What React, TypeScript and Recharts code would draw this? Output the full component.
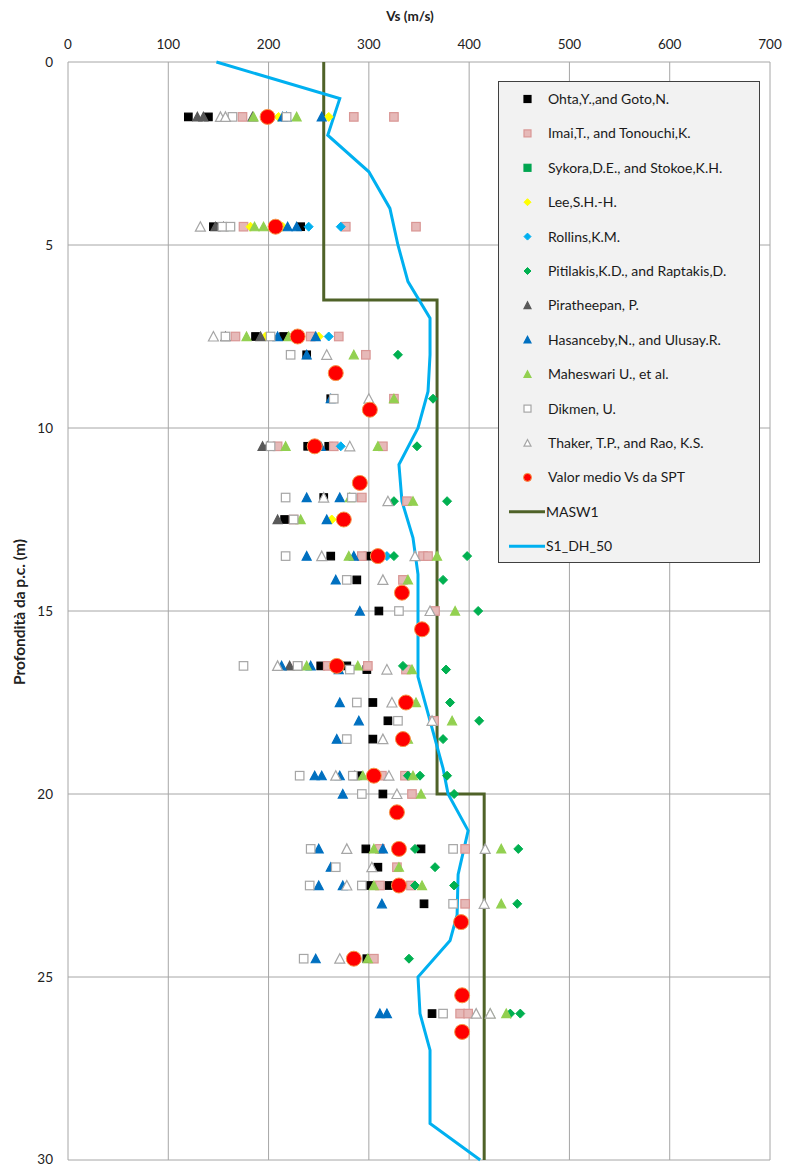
import React from 'react';
import { ScatterChart, Scatter, XAxis, YAxis, CartesianGrid, Legend } from 'recharts';

type Row = [number, number[]];
type P = { v: number; d: number };

const xTicks = [0, 100, 200, 300, 400, 500, 600, 700];
const yTicks = [0, 5, 10, 15, 20, 25, 30];

// rows: [depth (m), Vs values (m/s)]
const ohta: Row[] = [
  [1.5, [120, 140]], [4.5, [145, 232]], [7.5, [187, 215]], [8.0, [238]], [9.2, [262]],
  [10.5, [239, 260]], [11.9, [255, 283]], [12.5, [216]], [13.5, [262, 299]], [14.15, [288]],
  [15.0, [310]], [16.5, [252, 278]], [16.6, [298]], [17.5, [304]], [18.0, [319]], [18.5, [304]],
  [19.5, [289]], [20.0, [314]], [21.5, [297, 352]], [22.0, [309]], [22.5, [300, 320]],
  [23.0, [355]], [24.5, [298]], [26.0, [363]],
];
const imai: Row[] = [
  [1.5, [174, 285, 325]], [4.5, [175, 277, 347]], [7.5, [167, 242, 270]], [8.0, [297]], [9.2, [325]],
  [10.5, [209, 265, 314]], [11.9, [293]], [12.0, [338]], [12.5, [225]], [13.5, [293, 354, 359]],
  [14.15, [334]], [15.0, [366]], [16.5, [229, 259, 299]], [16.6, [337]], [18.0, [365]],
  [19.5, [313, 336]], [20.0, [343]], [21.5, [311, 396]], [22.0, [328]], [22.5, [311, 342]],
  [23.0, [396]], [24.5, [305]], [26.0, [391, 399]],
];
const sykora: Row[] = [[4.5, [162]], [16.5, [229]]];
const lee: Row[] = [[1.5, [210, 260]], [4.5, [182, 214]], [7.5, [197, 250]], [12.5, [263]]];
const rollins: Row[] = [[4.5, [240, 272]], [7.5, [260]], [10.5, [272]], [13.5, [318]]];
const pitilakis: Row[] = [
  [8.0, [329]], [9.2, [364]], [10.5, [348]], [12.0, [325, 378]], [13.5, [325, 398]], [14.15, [374]],
  [15.0, [409]], [16.5, [334]], [16.6, [377]], [17.5, [381]], [18.0, [410]], [18.5, [374]],
  [19.5, [339, 351, 378]], [20.0, [385]], [21.5, [346, 449]], [22.0, [366]], [22.5, [346, 385]],
  [23.0, [448]], [24.5, [340]], [26.0, [441, 451]],
];
const piratheepan: Row[] = [
  [1.5, [129, 135, 184]], [4.5, [147, 155]], [7.5, [157, 192]], [10.5, [194, 199]], [12.5, [209]],
  [16.5, [221]], [19.5, [286]],
];
const hasanceby: Row[] = [
  [1.5, [214, 218, 253]], [4.5, [219, 228]], [7.5, [209, 247]], [8.0, [238]], [9.2, [262]],
  [10.5, [252]], [11.9, [238, 271]], [12.5, [258]], [13.5, [238, 285]], [14.15, [267]], [15.0, [291]],
  [16.5, [213, 242]], [16.6, [270]], [17.5, [271]], [18.0, [290]], [18.5, [268]],
  [19.5, [246, 253, 271]], [20.0, [274]], [21.5, [250, 314]], [22.0, [262]], [22.5, [250, 274]],
  [23.0, [313]], [24.5, [247]], [26.0, [311, 318]],
];
const maheswari: Row[] = [
  [1.5, [185, 228]], [4.5, [186, 195]], [7.5, [178, 220]], [8.0, [285]], [9.2, [325]],
  [10.5, [217, 309]], [11.9, [281]], [12.0, [344]], [12.5, [232]], [13.5, [280, 368]], [14.15, [339]],
  [15.0, [386]], [16.5, [238, 289]], [16.6, [343]], [17.5, [347]], [18.0, [383]], [18.5, [339]],
  [19.5, [294, 344]], [20.0, [352]], [21.5, [305, 432]], [22.0, [330]], [22.5, [305, 353]],
  [23.0, [432]], [24.5, [299]], [26.0, [421, 437]],
];
const dikmen: Row[] = [
  [1.5, [164, 218]], [4.5, [154, 162]], [7.5, [157, 202]], [8.0, [222]], [9.2, [265]], [10.5, [202]],
  [11.9, [217, 283]], [12.5, [225]], [13.5, [217]], [14.15, [278]], [15.0, [330]],
  [16.5, [175, 229]], [16.6, [281]], [17.5, [288]], [18.0, [329]], [18.5, [278]],
  [19.5, [231, 284]], [20.0, [293]], [21.5, [242, 384]], [22.0, [267]], [22.5, [241, 293]],
  [23.0, [384]], [24.5, [235]], [26.0, [374]],
];
const thaker: Row[] = [
  [1.5, [152, 157]], [4.5, [132]], [7.5, [145]], [8.0, [258]], [9.2, [300]], [10.5, [281]],
  [11.9, [255]], [12.0, [319]], [13.5, [253, 346]], [14.15, [314]], [15.0, [361]],
  [16.5, [209]], [16.6, [318]], [17.5, [323]], [18.0, [363]], [18.5, [314]],
  [19.5, [267, 320]], [20.0, [328]], [21.5, [278, 416]], [22.0, [303]], [22.5, [278]],
  [23.0, [415]], [24.5, [271]], [26.0, [407, 421]],
];
const valorMedio: Row[] = [
  [1.5, [199]], [4.5, [207]], [7.5, [229]], [8.5, [267]], [9.5, [301]], [10.5, [246]],
  [11.5, [291]], [12.5, [275]], [13.5, [309]], [14.5, [333]], [15.5, [353]], [16.5, [268]],
  [17.5, [337]], [18.5, [334]], [19.5, [305]], [20.5, [328]], [21.5, [330]], [22.5, [330]],
  [23.5, [392]], [24.5, [285]], [25.5, [393]], [26.5, [393]],
];

const maswV = [255, 255, 368, 368, 415, 415];
const maswD = [0, 6.5, 6.5, 20, 20, 30];
const dhV = [148, 271, 259, 300, 321, 329, 339, 361, 361, 359, 349, 330, 333, 344, 349, 349, 349, 374, 379, 399, 389, 388, 381, 349, 351, 361, 361, 411];
const dhD = [0, 1, 2, 3, 4, 5, 6, 7, 8, 9, 10, 11, 12, 13, 14, 16, 16.8, 19.3, 20, 21, 22.2, 23.3, 24, 25, 26, 27, 29, 30];

const toPts = (rows: Row[]): P[] => rows.flatMap(([d, vs]) => vs.map((v) => ({ v, d })));
const toLine = (vs: number[], ds: number[]): P[] => vs.map((v, i) => ({ v, d: ds[i] }));

type ShapeKind = 'square' | 'diamond' | 'triangle' | 'circle';
const drawMarker = (kind: ShapeKind, cx: number, cy: number, fill: string, stroke: string, s: number) => {
  if (kind === 'square') {
    return <rect x={cx - s / 2} y={cy - s / 2} width={s} height={s} fill={fill} stroke={stroke} strokeWidth={1.2} />;
  }
  if (kind === 'diamond') {
    const h = s / 2;
    return <polygon points={`${cx},${cy - h} ${cx + h},${cy} ${cx},${cy + h} ${cx - h},${cy}`} fill={fill} stroke={stroke} strokeWidth={1} />;
  }
  if (kind === 'triangle') {
    const h = s / 2;
    return <polygon points={`${cx},${cy - h} ${cx + h},${cy + h * 0.9} ${cx - h},${cy + h * 0.9}`} fill={fill} stroke={stroke} strokeWidth={1.2} />;
  }
  return <circle cx={cx} cy={cy} r={s / 2} fill={fill} stroke={stroke} strokeWidth={1} />;
};

type SeriesDef = { name: string; rows: Row[]; kind: ShapeKind; fill: string; stroke: string; size: number };
const series: SeriesDef[] = [
  { name: 'Ohta,Y.,and Goto,N.', rows: ohta, kind: 'square', fill: '#000000', stroke: '#000000', size: 7.5 },
  { name: 'Imai,T., and Tonouchi,K.', rows: imai, kind: 'square', fill: '#E6B9B8', stroke: '#D99694', size: 8.5 },
  { name: 'Sykora,D.E., and Stokoe,K.H.', rows: sykora, kind: 'square', fill: '#00A550', stroke: '#00A550', size: 7.5 },
  { name: 'Lee,S.H.-H.', rows: lee, kind: 'diamond', fill: '#FFFF00', stroke: '#FFFF00', size: 9 },
  { name: 'Rollins,K.M.', rows: rollins, kind: 'diamond', fill: '#00B0F0', stroke: '#00B0F0', size: 9 },
  { name: 'Pitilakis,K.D., and Raptakis,D.', rows: pitilakis, kind: 'diamond', fill: '#00B050', stroke: '#00B050', size: 9 },
  { name: 'Piratheepan, P.', rows: piratheepan, kind: 'triangle', fill: '#595959', stroke: '#595959', size: 9 },
  { name: 'Hasanceby,N., and Ulusay.R.', rows: hasanceby, kind: 'triangle', fill: '#0070C0', stroke: '#0070C0', size: 9 },
  { name: 'Maheswari U., et al.', rows: maheswari, kind: 'triangle', fill: '#92D050', stroke: '#92D050', size: 9 },
  { name: 'Dikmen, U.', rows: dikmen, kind: 'square', fill: '#FFFFFF', stroke: '#A6A6A6', size: 8.5 },
  { name: 'Thaker, T.P., and Rao, K.S.', rows: thaker, kind: 'triangle', fill: '#FFFFFF', stroke: '#A6A6A6', size: 10 },
  { name: 'Valor medio Vs da SPT', rows: valorMedio, kind: 'circle', fill: '#FF0000', stroke: '#F79646', size: 15 },
];
const lines = [
  { name: 'MASW1', data: toLine(maswV, maswD), color: '#4F6228' },
  { name: 'S1_DH_50', data: toLine(dhV, dhD), color: '#00B0F0' },
];

const FONT = 'Lato, "Liberation Sans", sans-serif';

const LegendBox = () => {
  const W = 262;
  const H = 482;
  const step = 34.4;
  const y0 = 18;
  return (
    <svg width={W} height={H} style={{ display: 'block' }}>
      <rect x={0.5} y={0.5} width={W - 1} height={H - 1} fill="#F2F2F2" stroke="#404040" strokeWidth={1} />
      {series.map((s, i) => {
        const y = y0 + i * step;
        return (
          <g key={s.name}>
            {drawMarker(s.kind, 29.5, y, s.fill, s.stroke, s.kind === 'circle' ? 8 : 7)}
            <text x={50} y={y + 5} fontSize={14} fontFamily={FONT} fill="#1a1a1a">{s.name}</text>
          </g>
        );
      })}
      {lines.map((l, j) => {
        const y = y0 + (series.length + j) * step;
        return (
          <g key={l.name}>
            <line x1={11} x2={47} y1={y} y2={y} stroke={l.color} strokeWidth={3} />
            <text x={48} y={y + 5} fontSize={14} fontFamily={FONT} fill="#1a1a1a">{l.name}</text>
          </g>
        );
      })}
    </svg>
  );
};

export default function App() {
  return (
    <div style={{ position: 'absolute', left: 0, top: 0, width: 785, height: 1167, background: '#fff' }}>
      <ScatterChart width={785} height={1167} margin={{ top: 32, right: 15, bottom: 7, left: 8 }}>
        <CartesianGrid stroke="#A6A6A6" strokeWidth={1} />
        <XAxis
          type="number"
          dataKey="v"
          orientation="top"
          domain={[0, 700]}
          ticks={xTicks}
          height={30}
          axisLine={false}
          tickLine={false}
          tickSize={0}
          tickMargin={13}
          tick={{ fontSize: 13.5, fontFamily: FONT, fill: '#222' }}
          label={{
            content: () => (
              <text x={410} y={21} textAnchor="middle" fontSize={13.5} fontWeight="bold" fontFamily={FONT} fill="#222">Vs (m/s)</text>
            ),
          }}
        />
        <YAxis
          type="number"
          dataKey="d"
          reversed
          domain={[0, 30]}
          ticks={yTicks}
          width={60}
          axisLine={false}
          tickLine={false}
          tickSize={0}
          tickMargin={15}
          tick={{ fontSize: 13.5, fontFamily: FONT, fill: '#222' }}
          label={{
            content: () => (
              <text x={25} y={612} transform="rotate(-90 25 612)" textAnchor="middle" fontSize={15.5} fontWeight="bold" fontFamily={FONT} fill="#222">Profondità da p.c. (m)</text>
            ),
          }}
        />
        <Legend
          layout="vertical"
          align="center"
          verticalAlign="middle"
          wrapperStyle={{ position: 'absolute', left: 498, top: 81, width: 262, height: 482 }}
          content={() => <LegendBox />}
        />
        {lines.map((l) => (
          <Scatter
            key={l.name}
            name={l.name}
            data={l.data}
            line={{ stroke: l.color, strokeWidth: 3 }}
            lineType="joint"
            lineJointType="linear"
            shape={() => <g />}
            isAnimationActive={false}
          />
        ))}
        {series.map((s) => (
          <Scatter
            key={s.name}
            name={s.name}
            data={toPts(s.rows)}
            isAnimationActive={false}
            shape={(p: any) => drawMarker(s.kind, p.cx, p.cy, s.fill, s.stroke, s.size)}
          />
        ))}
      </ScatterChart>
    </div>
  );
}
